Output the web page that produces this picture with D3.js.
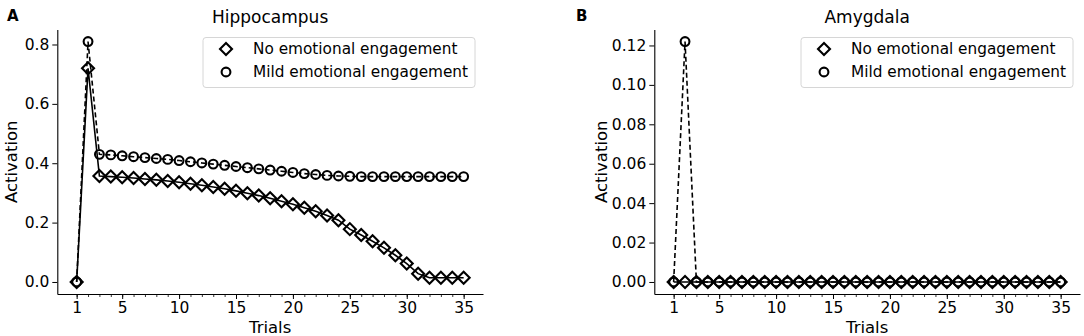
<!DOCTYPE html>
<html>
<head>
<meta charset="utf-8">
<script src="https://cdn.jsdelivr.net/npm/d3@7"></script>
<style>
  body { margin: 0; background: #fff; }
  svg { font-family: "DejaVu Sans", sans-serif; }
</style>
</head>
<body>
<div id="chart"></div>
<script>
  // Data
  var trials = d3.range(1, 36);
  var xTicks = [1, 5, 10, 15, 20, 25, 30, 35];
  var seriesNames = ["No emotional engagement", "Mild emotional engagement"];

  var hippoNone = [0, 0.72, 0.357, 0.355, 0.353, 0.350, 0.347, 0.344, 0.340, 0.336,
    0.331, 0.326, 0.320, 0.314, 0.307, 0.299, 0.291, 0.282, 0.272, 0.262,
    0.250, 0.238, 0.224, 0.208, 0.178, 0.158, 0.137, 0.115, 0.090, 0.062,
    0.028, 0.014, 0.014, 0.014, 0.014];
  var hippoMild = [0, 0.81, 0.430, 0.428, 0.425, 0.422, 0.419, 0.416, 0.413, 0.409,
    0.405, 0.401, 0.397, 0.393, 0.389, 0.385, 0.381, 0.377, 0.373, 0.369,
    0.365, 0.362, 0.359, 0.357, 0.356, 0.355, 0.355, 0.355, 0.355, 0.355,
    0.355, 0.355, 0.355, 0.355, 0.355];
  var amygNone = [0, 0, 0, 0, 0, 0, 0, 0, 0, 0, 0, 0, 0, 0, 0, 0, 0, 0, 0, 0,
    0, 0, 0, 0, 0, 0, 0, 0, 0, 0, 0, 0, 0, 0, 0];
  var amygMild = [0, 0.122, 0, 0, 0, 0, 0, 0, 0, 0, 0, 0, 0, 0, 0, 0, 0, 0, 0, 0,
    0, 0, 0, 0, 0, 0, 0, 0, 0, 0, 0, 0, 0, 0, 0];
  var hippoYTicks = [0, 0.2, 0.4, 0.6, 0.8];
  var amygYTicks = [0, 0.02, 0.04, 0.06, 0.08, 0.10, 0.12];

  var W = 1084, H = 336;
  var svg = d3.select("#chart").append("svg")
    .attr("width", W).attr("height", H);

  var diamond = d3.symbol().type(d3.symbolSquare).size(72);

  function drawPanel(opts) {
    var left = opts.left, right = opts.right, top = 29.5, bottom = 294;
    var g = svg.append("g");

    var x = d3.scaleLinear().domain([1 - 0.05 * 34, 35 + 0.05 * 34]).range([left, right]);
    var all = opts.none.concat(opts.mild);
    var yMin = d3.min(all), yMax = d3.max(all), pad = (yMax - yMin) * 0.05;
    var y = d3.scaleLinear().domain([yMin - pad, yMax + pad]).range([bottom, top]);

    // minor ticks
    g.append("g")
      .attr("transform", "translate(0," + bottom + ")")
      .call(d3.axisBottom(x).tickValues(trials).tickSize(3).tickFormat(""))
      .call(function(a) { a.select(".domain").remove(); a.selectAll("line").attr("stroke-width", 0.8); });

    var xAxis = g.append("g")
      .attr("transform", "translate(0," + bottom + ")")
      .call(d3.axisBottom(x).tickValues(xTicks).tickSize(5).tickPadding(3).tickSizeOuter(0));
    xAxis.select(".domain").attr("stroke-width", 1.1);
    xAxis.selectAll("text").attr("font-size", 15.5).attr("fill", "#000")
      .attr("font-family", "DejaVu Sans");

    var yAxis = g.append("g")
      .attr("transform", "translate(" + left + ",0)")
      .call(d3.axisLeft(y).tickValues(opts.yTicks).tickSize(5).tickPadding(3).tickSizeOuter(0)
        .tickFormat(d3.format(opts.fmt)));
    yAxis.select(".domain").attr("stroke-width", 1.1);
    yAxis.selectAll("text").attr("font-size", 15.5).attr("fill", "#000")
      .attr("font-family", "DejaVu Sans");

    // axis labels and title
    g.append("text").attr("x", (left + right) / 2).attr("y", 333)
      .attr("text-anchor", "middle").attr("font-size", 16.5).text("Trials");
    g.append("text")
      .attr("transform", "translate(" + opts.ylabelX + "," + ((top + bottom) / 2) + ") rotate(-90)")
      .attr("text-anchor", "middle").attr("dy", "0.35em").attr("font-size", 16.5).text("Activation");
    g.append("text").attr("x", (left + right) / 2).attr("y", 23)
      .attr("text-anchor", "middle").attr("font-size", 17).text(opts.title);
    g.append("text").attr("x", opts.letterX).attr("y", 20.5)
      .attr("font-size", 15).attr("font-weight", "bold").text(opts.letter);

    var line = d3.line().x(function(d, i) { return x(trials[i]); }).y(function(d) { return y(d); });

    // no engagement: solid line, diamonds
    g.append("path").datum(opts.none)
      .attr("d", line).attr("fill", "none").attr("stroke", "#000").attr("stroke-width", 1.6);
    g.selectAll(".dia").data(opts.none).enter().append("path")
      .attr("class", "dia")
      .attr("d", diamond)
      .attr("transform", function(d, i) { return "translate(" + x(trials[i]) + "," + y(d) + ") rotate(45)"; })
      .attr("fill", "none").attr("stroke", "#000").attr("stroke-width", 2.1);

    // mild engagement: dashed line, circles
    g.append("path").datum(opts.mild)
      .attr("d", line).attr("fill", "none").attr("stroke", "#000").attr("stroke-width", 1.6)
      .attr("stroke-dasharray", "5,3");
    g.selectAll(".circ").data(opts.mild).enter().append("circle")
      .attr("class", "circ")
      .attr("cx", function(d, i) { return x(trials[i]); })
      .attr("cy", function(d) { return y(d); })
      .attr("r", 4.4)
      .attr("fill", "none").attr("stroke", "#000").attr("stroke-width", 2.1);

    // legend
    var lx = opts.legendX, ly = 37.5;
    var legend = g.append("g").attr("transform", "translate(" + lx + "," + ly + ")");
    legend.append("rect").attr("width", opts.legendW).attr("height", 50).attr("rx", 3)
      .attr("fill", "#fff").attr("stroke", "#d6d6d6").attr("stroke-width", 1);
    seriesNames.forEach(function(name, i) {
      var ry = 11.5 + i * 23;
      if (i === 0) {
        legend.append("path").attr("d", diamond)
          .attr("transform", "translate(23," + ry + ") rotate(45)")
          .attr("fill", "none").attr("stroke", "#000").attr("stroke-width", 2.1);
      } else {
        legend.append("circle").attr("cx", 23).attr("cy", ry).attr("r", 4.4)
          .attr("fill", "none").attr("stroke", "#000").attr("stroke-width", 2.1);
      }
      legend.append("text").attr("x", 50).attr("y", ry).attr("dy", "0.35em")
        .attr("font-size", 15.3).text(name);
    });
  }

  drawPanel({
    left: 57.3, right: 483, none: hippoNone, mild: hippoMild, yTicks: hippoYTicks,
    fmt: ".1f", title: "Hippocampus", letter: "A", letterX: 7, ylabelX: 11,
    legendX: 203, legendW: 272
  });
  drawPanel({
    left: 654.3, right: 1080, none: amygNone, mild: amygMild, yTicks: amygYTicks,
    fmt: ".2f", title: "Amygdala", letter: "B", letterX: 576, ylabelX: 601,
    legendX: 801, legendW: 272
  });
</script>
</body>
</html>
